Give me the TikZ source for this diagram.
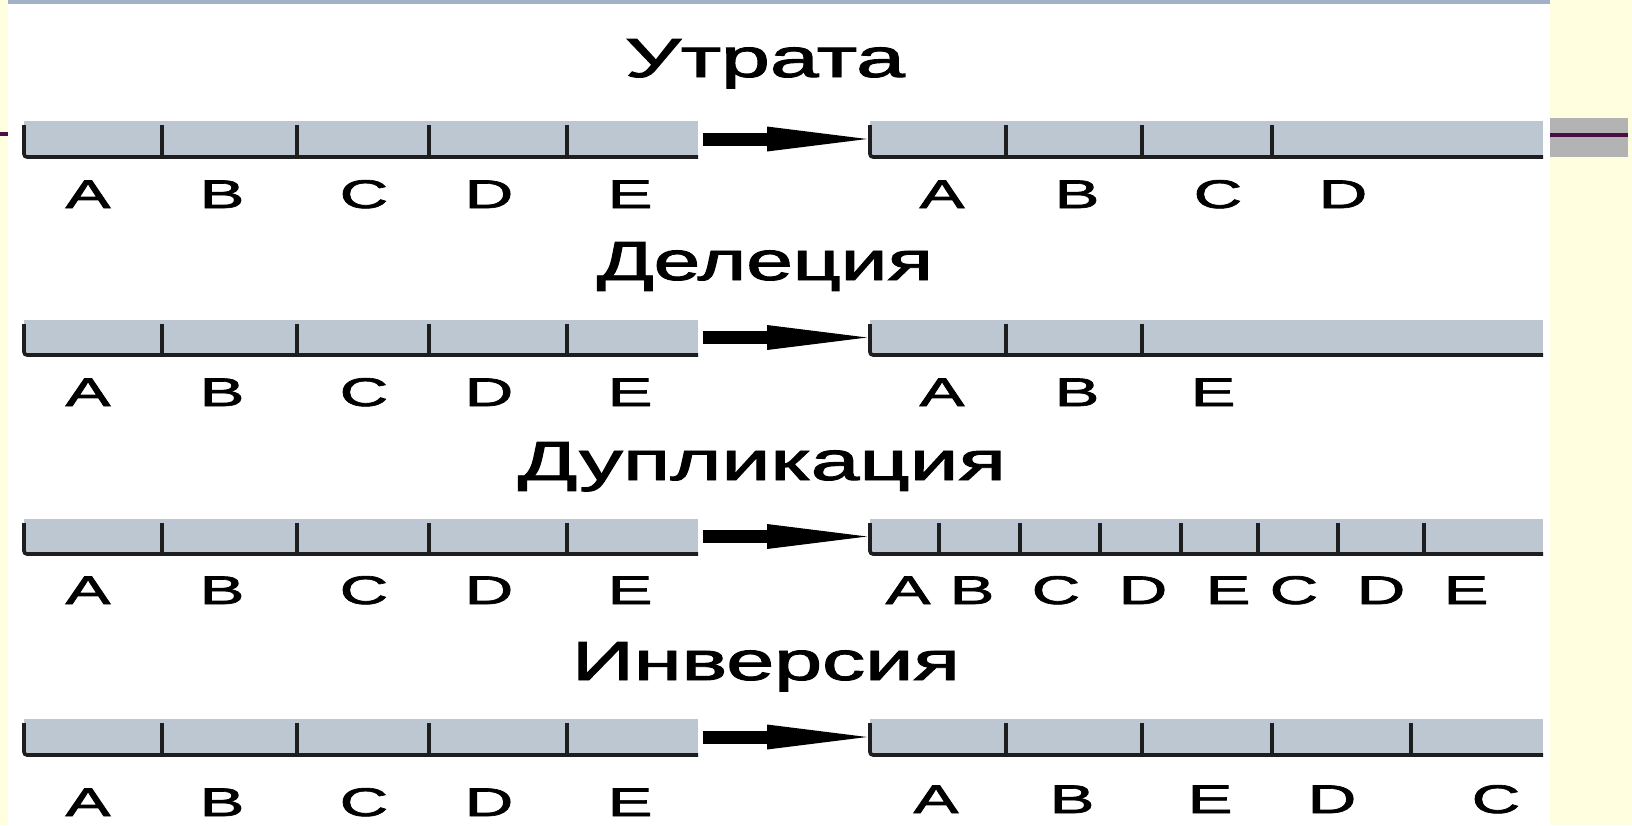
\documentclass[tikz,border=0pt]{standalone}
\usepackage{fontspec}
\usepackage{graphicx}
\setmainfont{Liberation Sans}
\newfontfamily\heavyfont{Liberation Sans}[FakeBold=1.6]
\usetikzlibrary{arrows.meta}
\definecolor{slideyellow}{HTML}{FFFFE0}
\definecolor{chromfillc}{HTML}{BCC7D1}
\definecolor{chromlinec}{HTML}{1E1E1E}
\definecolor{toplinec}{HTML}{A2B0C8}
\definecolor{purplelinec}{HTML}{4A0E44}
\definecolor{greybarc}{HTML}{B3B3B3}
\newcommand\wl[1]{\scalebox{1.68}[1]{#1}}
\newcommand\chromo[6]{%
  \node[chromfill, minimum width={(#3-#2)*1pt}, minimum height={(#5-#4)*1pt}] (#1) at ({(#2+#3)/2},{(#4+#5)/2}) {};
  \draw[chromline, rounded corners=3pt] (#2,#4+4) -- (#2,#5) -- (#3,#5);
  \foreach \t in {#6} {\draw[chromline] (\t,#4+4) -- (\t,#5);}
}
\begin{document}
\begin{tikzpicture}[x=1pt,y=-1pt,
  chromfill/.style={fill=chromfillc, draw=none, inner sep=0pt, outer sep=0pt},
  chromline/.style={draw=chromlinec, line width=3.6pt},
  lbl/.style={font=\heavyfont\fontsize{40}{44}\selectfont, inner sep=0pt, anchor=base},
  ttl/.style={font=\heavyfont\fontsize{55}{60}\selectfont, inner sep=0pt, anchor=base},
  bigarrow/.style={line width=13pt, -{Triangle[length=100pt,width=25pt,line width=0pt]}, shorten >=3pt}]
\useasboundingbox (0,0) rectangle (1632,825);
\fill[slideyellow] (0,0) rectangle (1632,825);
\fill[white] (8,0) rectangle (1550,825);
\fill[toplinec] (8,0) rectangle (1550,4);
\fill[greybarc] (1550,118) rectangle (1628,157);
\fill[purplelinec] (1550,133) rectangle (1628,137);
\fill[purplelinec] (0,132) rectangle (8,135.5);

% Row 1
\node[ttl] (t1) at (765,77) {\resizebox{280pt}{\height}{Утрата}};
\chromo{L1}{24}{698}{121}{157}{162,297,429,567}
\chromo{R1}{870}{1543}{121}{157}{1006,1142,1272}
\draw[bigarrow] ([xshift=5pt]L1.east) -- (R1.west);
\node[lbl] (l1a) at (88,208) {\wl{A}};
\node[lbl] (l1b) at (222,208) {\wl{B}};
\node[lbl] (l1c) at (364,208) {\wl{C}};
\node[lbl] (l1d) at (489,208) {\wl{D}};
\node[lbl] (l1e) at (630,208) {\wl{E}};
\node[lbl] (r1a) at (942,208) {\wl{A}};
\node[lbl] (r1b) at (1077,208) {\wl{B}};
\node[lbl] (r1c) at (1218,208) {\wl{C}};
\node[lbl] (r1d) at (1343,208) {\wl{D}};

% Row 2
\node[ttl] (t2) at (765,280) {\resizebox{336pt}{\height}{Делеция}};
\chromo{L2}{24}{698}{320}{355}{162,297,429,567}
\chromo{R2}{870}{1543}{320}{355}{1006,1142}
\draw[bigarrow] ([xshift=5pt]L2.east) -- (R2.west);
\node[lbl] (l2a) at (88,406) {\wl{A}};
\node[lbl] (l2b) at (222,406) {\wl{B}};
\node[lbl] (l2c) at (364,406) {\wl{C}};
\node[lbl] (l2d) at (489,406) {\wl{D}};
\node[lbl] (l2e) at (630,406) {\wl{E}};
\node[lbl] (r2a) at (942,406) {\wl{A}};
\node[lbl] (r2b) at (1077,406) {\wl{B}};
\node[lbl] (r2e) at (1213,406) {\wl{E}};

% Row 3
\node[ttl] (t3) at (762,480) {\resizebox{488pt}{\height}{Дупликация}};
\chromo{L3}{24}{698}{519}{554}{162,297,429,567}
\chromo{R3}{870}{1543}{519}{554}{939,1020,1100,1181,1258,1338,1424}
\draw[bigarrow] ([xshift=5pt]L3.east) -- (R3.west);
\node[lbl] (l3a) at (88,604) {\wl{A}};
\node[lbl] (l3b) at (222,604) {\wl{B}};
\node[lbl] (l3c) at (364,604) {\wl{C}};
\node[lbl] (l3d) at (489,604) {\wl{D}};
\node[lbl] (l3e) at (630,604) {\wl{E}};
\node[lbl] (r3a) at (908,604) {\wl{A}};
\node[lbl] (r3b) at (972,604) {\wl{B}};
\node[lbl] (r3c) at (1056,604) {\wl{C}};
\node[lbl] (r3d) at (1143,604) {\wl{D}};
\node[lbl] (r3e) at (1228,604) {\wl{E}};
\node[lbl] (r3c2) at (1294,604) {\wl{C}};
\node[lbl] (r3d2) at (1381,604) {\wl{D}};
\node[lbl] (r3e2) at (1466,604) {\wl{E}};

% Row 4
\node[ttl] (t4) at (766,680) {\resizebox{388pt}{\height}{Инверсия}};
\chromo{L4}{24}{698}{719}{755}{162,297,429,567}
\chromo{R4}{870}{1543}{719}{755}{1006,1142,1272,1411}
\draw[bigarrow] ([xshift=5pt]L4.east) -- (R4.west);
\node[lbl] (l4a) at (88,816) {\wl{A}};
\node[lbl] (l4b) at (222,816) {\wl{B}};
\node[lbl] (l4c) at (364,816) {\wl{C}};
\node[lbl] (l4d) at (489,816) {\wl{D}};
\node[lbl] (l4e) at (630,816) {\wl{E}};
\node[lbl] (r4a) at (936,813) {\wl{A}};
\node[lbl] (r4b) at (1072,813) {\wl{B}};
\node[lbl] (r4e) at (1210,813) {\wl{E}};
\node[lbl] (r4d) at (1332,813) {\wl{D}};
\node[lbl] (r4c) at (1496,813) {\wl{C}};
\end{tikzpicture}
\end{document}
